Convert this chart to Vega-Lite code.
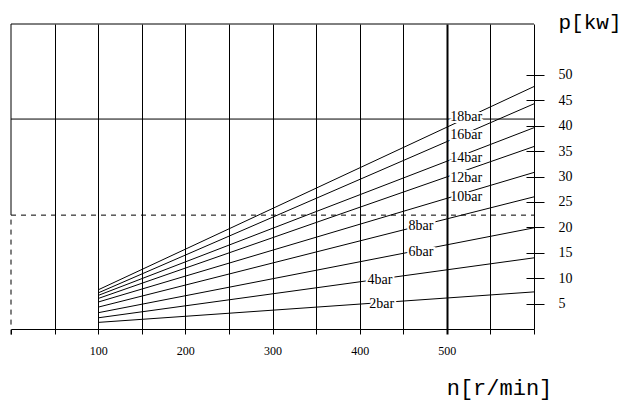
{
  "$schema": "https://vega.github.io/schema/vega-lite/v6.json",
  "width": 523,
  "height": 305,
  "autosize": {"type": "none"},
  "padding": {"left": 11, "top": 24, "right": 92, "bottom": 74},
  "background": "white",
  "config": {"view": {"stroke": null}},
  "datasets": {
    "curves": [
      {"bar": "18bar", "n": 100, "p": 7.7}, {"bar": "18bar", "n": 600, "p": 47.7},
      {"bar": "16bar", "n": 100, "p": 7.1}, {"bar": "16bar", "n": 600, "p": 44.3},
      {"bar": "14bar", "n": 100, "p": 6.6}, {"bar": "14bar", "n": 600, "p": 39.6},
      {"bar": "12bar", "n": 100, "p": 6.0}, {"bar": "12bar", "n": 600, "p": 35.9},
      {"bar": "10bar", "n": 100, "p": 5.3}, {"bar": "10bar", "n": 600, "p": 30.8},
      {"bar": "8bar", "n": 100, "p": 4.3}, {"bar": "8bar", "n": 600, "p": 26.0},
      {"bar": "6bar", "n": 100, "p": 3.2}, {"bar": "6bar", "n": 600, "p": 19.9},
      {"bar": "4bar", "n": 100, "p": 2.2}, {"bar": "4bar", "n": 600, "p": 14.0},
      {"bar": "2bar", "n": 100, "p": 1.3}, {"bar": "2bar", "n": 600, "p": 7.3}
    ],
    "labels": [
      {"label": "18bar", "n": 504, "p": 41.7},
      {"label": "16bar", "n": 504, "p": 38.2},
      {"label": "14bar", "n": 504, "p": 33.6},
      {"label": "12bar", "n": 504, "p": 29.8},
      {"label": "10bar", "n": 504, "p": 26.0},
      {"label": "8bar", "n": 456, "p": 20.2},
      {"label": "6bar", "n": 456, "p": 15.1},
      {"label": "4bar", "n": 409, "p": 9.6},
      {"label": "2bar", "n": 411, "p": 5.0}
    ],
    "solidH": [{"p": 60}, {"p": 41.3}],
    "dashedH": [{"p": 22.4}],
    "leftSolid": [{"n": 0, "p": 22.4, "p2": 60}],
    "leftDashed": [{"n": 0, "p": -1.1, "p2": 22.4}]
  },
  "layer": [
    {
      "data": {"name": "solidH"},
      "mark": {"type": "rule", "color": "black", "strokeWidth": 1},
      "encoding": {
        "y": {
          "field": "p", "type": "quantitative",
          "scale": {"domain": [0, 60], "nice": false},
          "axis": {
            "orient": "right", "offset": -8, "tickSize": 18, "domain": false, "grid": false,
            "values": [5, 10, 15, 20, 25, 30, 35, 40, 45, 50],
            "tickCount": 12,
            "labelOverlap": false,
            "tickColor": "black", "labelColor": "black",
            "labelFont": "Liberation Serif", "labelFontSize": 14, "labelPadding": 14,
            "title": "p[kw]", "titleAngle": 0, "titleX": 32, "titleY": -2,
            "titleAlign": "left", "titleBaseline": "middle",
            "titleFont": "Liberation Mono", "titleFontSize": 21, "titleFontWeight": "normal", "titleColor": "black"
          }
        },
        "x": {"datum": 0, "type": "quantitative", "scale": {"domain": [0, 600], "nice": false}},
        "x2": {"datum": 600}
      }
    },
    {
      "data": {"name": "dashedH"},
      "mark": {"type": "rule", "color": "black", "strokeWidth": 1, "strokeDash": [5, 5]},
      "encoding": {
        "y": {"field": "p", "type": "quantitative"},
        "x": {"datum": 0, "type": "quantitative"},
        "x2": {"datum": 600}
      }
    },
    {
      "data": {"name": "leftSolid"},
      "mark": {"type": "rule", "color": "black", "strokeWidth": 1},
      "encoding": {
        "x": {"field": "n", "type": "quantitative"},
        "y": {"field": "p", "type": "quantitative"},
        "y2": {"field": "p2"}
      }
    },
    {
      "data": {"name": "leftDashed"},
      "mark": {"type": "rule", "color": "black", "strokeWidth": 1, "strokeDash": [5, 5]},
      "encoding": {
        "x": {"field": "n", "type": "quantitative"},
        "y": {"field": "p", "type": "quantitative"},
        "y2": {"field": "p2"}
      }
    },
    {
      "data": {"name": "curves"},
      "mark": {"type": "line", "color": "black", "strokeWidth": 1},
      "encoding": {
        "x": {
          "field": "n", "type": "quantitative",
          "axis": {
            "orient": "bottom",
            "values": [0, 50, 100, 150, 200, 250, 300, 350, 400, 450, 500, 550, 600],
            "tickCount": 14,
            "labelExpr": "datum.value % 100 == 0 && datum.value > 0 && datum.value < 600 ? datum.label : ''",
            "labelOverlap": false,
            "grid": true,
            "gridColor": {"condition": {"test": "datum.value == 0", "value": "transparent"}, "value": "black"},
            "gridWidth": {"condition": {"test": "datum.value == 500", "value": 2}, "value": 1},
            "gridOpacity": 1,
            "tickWidth": {"condition": {"test": "datum.value == 500", "value": 2}, "value": 1},
            "domain": true, "domainColor": "black", "domainWidth": 1,
            "tickColor": "black", "tickSize": 5,
            "labelFont": "Liberation Serif", "labelFontSize": 12, "labelColor": "black",
            "labelPadding": 11, "labelFlush": false,
            "title": "n[r/min]", "titleX": 488, "titleY": 58,
            "titleAlign": "center", "titleBaseline": "middle",
            "titleFont": "Liberation Mono", "titleFontSize": 22, "titleFontWeight": "normal", "titleColor": "black"
          }
        },
        "y": {"field": "p", "type": "quantitative"},
        "detail": {"field": "bar"}
      }
    },
    {
      "data": {"name": "labels"},
      "mark": {"type": "text", "align": "left", "baseline": "middle", "font": "Liberation Serif", "fontSize": 14, "fill": "white", "stroke": "white", "strokeWidth": 4},
      "encoding": {
        "x": {"field": "n", "type": "quantitative"},
        "y": {"field": "p", "type": "quantitative"},
        "text": {"field": "label"}
      }
    },
    {
      "data": {"name": "labels"},
      "mark": {"type": "text", "align": "left", "baseline": "middle", "font": "Liberation Serif", "fontSize": 14, "color": "black"},
      "encoding": {
        "x": {"field": "n", "type": "quantitative"},
        "y": {"field": "p", "type": "quantitative"},
        "text": {"field": "label"}
      }
    }
  ]
}
